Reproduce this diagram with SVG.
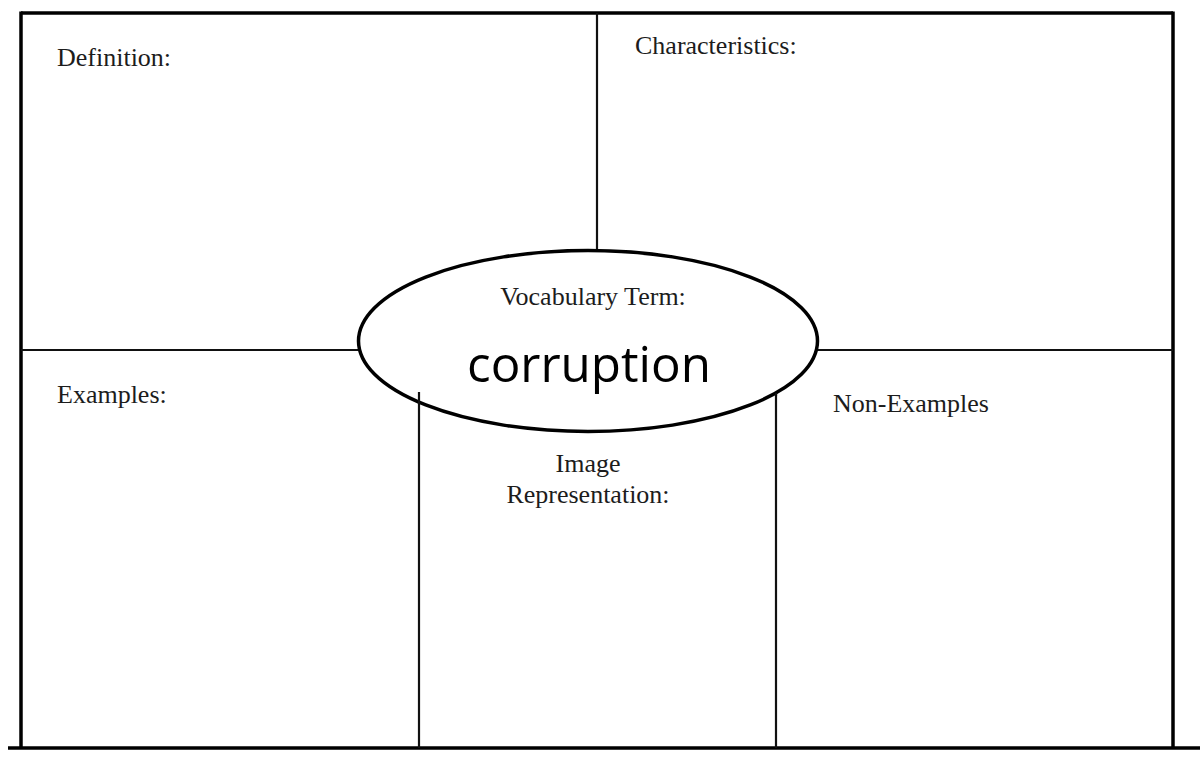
<svg xmlns="http://www.w3.org/2000/svg" width="1200" height="767" viewBox="0 0 1200 767">
  <style>
    .frame { fill: none; stroke: #000; stroke-width: 3.5; }
    .rule { fill: none; stroke: #111; stroke-width: 2.2; }
    .lbl { font-family: "Liberation Serif", "Times New Roman", serif; font-size: 26px; fill: #1c1c1c; }
    .term { font-family: "Open Sans", "Noto Sans", sans-serif; font-size: 50px; fill: #000; }
  </style>
  <rect width="1200" height="767" fill="#fff"/>
  <g id="frame">
    <line class="frame" x1="21" y1="13" x2="1173" y2="13"/>
    <line class="frame" x1="21" y1="11.5" x2="21" y2="748"/>
    <line class="frame" x1="1173" y1="11.5" x2="1173" y2="748"/>
    <line class="frame" x1="8" y1="748" x2="1200" y2="748" stroke-width="3"/>
  </g>
  <g id="connectors">
    <line class="rule" x1="597" y1="13" x2="597" y2="251"/>
    <line class="rule" x1="21" y1="350" x2="359" y2="350"/>
    <line class="rule" x1="817" y1="350" x2="1173" y2="350"/>
    <line class="rule" x1="419" y1="392" x2="419" y2="748"/>
    <line class="rule" x1="776" y1="393" x2="776" y2="748"/>
  </g>
  <g id="definition">
    <text class="lbl" x="57" y="66">Definition:</text>
  </g>
  <g id="characteristics">
    <text class="lbl" x="635" y="54">Characteristics:</text>
  </g>
  <g id="examples">
    <text class="lbl" x="57" y="403">Examples:</text>
  </g>
  <g id="non-examples">
    <text class="lbl" x="833" y="412">Non-Examples</text>
  </g>
  <g id="image-representation">
    <text class="lbl" x="588" y="472" text-anchor="middle">Image</text>
    <text class="lbl" x="588" y="503" text-anchor="middle">Representation:</text>
  </g>
  <g id="vocabulary-term">
    <ellipse cx="588" cy="341" rx="229.5" ry="90.5" fill="#fff" stroke="#000" stroke-width="3.5"/>
    <line class="rule" x1="419" y1="392" x2="419" y2="404"/>
    <line class="rule" x1="776" y1="393" x2="776" y2="396"/>
    <text class="lbl" x="593" y="305" text-anchor="middle">Vocabulary Term:</text>
    <text class="term" x="467" y="382" textLength="244" lengthAdjust="spacingAndGlyphs">corruption</text>
  </g>
</svg>
